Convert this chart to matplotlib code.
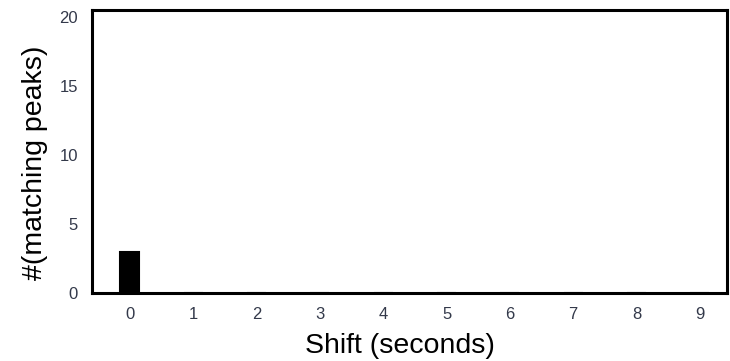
import numpy as np
import matplotlib
matplotlib.use("Agg")
import matplotlib.pyplot as plt

plt.rcParams['font.family'] = ['Liberation Sans', 'DejaVu Sans']

# 数据
shifts = [0, 1, 2, 3, 4, 5, 6, 7, 8, 9]
matching_peaks = [3, 0, 0, 0, 0, 0, 0, 0, 0, 0]

fig = plt.figure(figsize=(7.3, 3.61), dpi=100)
ax = fig.add_axes([0.126, 0.188, 0.87, 0.784])

ax.bar(shifts, matching_peaks, width=0.3, color='black', edgecolor='black', linewidth=1.5)

ax.set_xlim(-0.6, 9.43)
ax.set_ylim(0, 20.5)
ax.set_xticks(shifts)
ax.set_yticks([0, 5, 10, 15, 20])
ax.tick_params(length=0, labelsize=12, labelcolor='#33394a')
ax.tick_params(axis='x', pad=10)
ax.tick_params(axis='y', pad=10)
for s in ax.spines.values():
    s.set_linewidth(2.2)
    s.set_color('black')

ax.set_xlabel("Shift (seconds)", fontsize=20.5, labelpad=8, x=0.485)
ax.set_ylabel("#(matching peaks)", fontsize=20.5, labelpad=8, y=0.46)

fig.savefig("out.png", dpi=100)
